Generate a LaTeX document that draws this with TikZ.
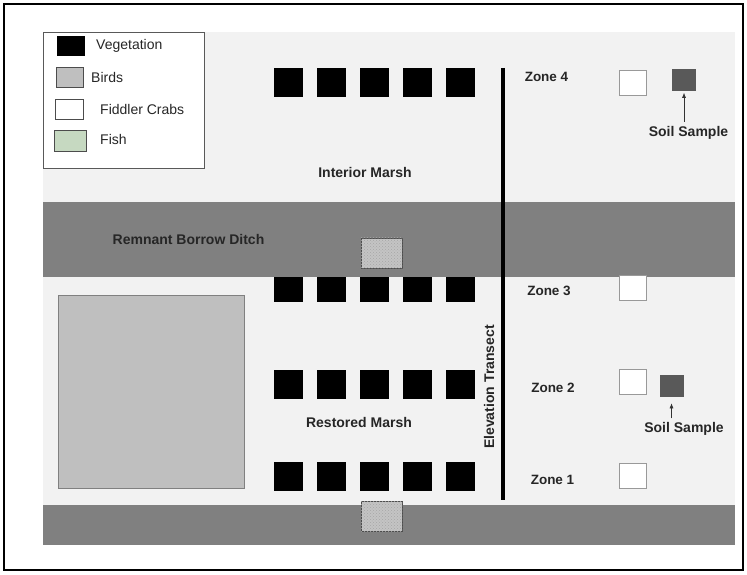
\documentclass[tikz,border=0pt]{standalone}
\usepackage{fontspec}
\setmainfont{Liberation Sans}
\usetikzlibrary{patterns,arrows.meta,calc}
\definecolor{panel}{HTML}{F2F2F2}
\definecolor{ditch}{HTML}{808080}
\definecolor{birdc}{HTML}{BFBFBF}
\definecolor{soilc}{HTML}{595959}
\definecolor{fishc}{HTML}{C6D9C1}
\definecolor{fishgray}{HTML}{C4C4C4}
\begin{document}
\begin{tikzpicture}[x=1pt,y=-1pt,
  veg/.style={fill=black,draw=black,inner sep=0pt,minimum width=28pt,minimum height=28pt},
  crab/.style={fill=white,draw=gray!80,line width=0.8pt,inner sep=0pt,minimum width=27pt,minimum height=25pt},
  soil/.style={fill=soilc,draw=gray!70!black,line width=0.6pt,inner sep=0pt,minimum width=23pt,minimum height=21pt},
  fish/.style={fill=fishgray,draw=gray!60!black,line width=0.6pt,inner sep=0pt,minimum width=41pt,minimum height=30pt},
  lbl/.style={font=\fontsize{14}{16}\selectfont\bfseries,text=black!85,inner sep=0pt},
  zlbl/.style={font=\fontsize{13.5}{16}\selectfont\bfseries,text=black!85,inner sep=0pt},
  legtxt/.style={font=\fontsize{14}{16}\selectfont,text=black!85,inner sep=0pt,anchor=west},
  swatch/.style={draw=gray!60!black,line width=0.6pt,inner sep=0pt,minimum width=27pt,minimum height=19pt},
  arr/.style={-{Latex[length=5pt,width=4pt]},line width=0.6pt,black!80}]
\useasboundingbox (0,0) rectangle (747,575);
% outer frame
\draw[line width=1.2pt] (4,4) rectangle (743,570);
% panels
\fill[panel] (43,32) rectangle (735,202);
\fill[ditch] (43,202) rectangle (735,277);
\fill[panel] (43,277) rectangle (735,505);
\fill[ditch] (43,505) rectangle (735,545);
% birds
\node[fill=birdc,draw=gray,line width=0.6pt,inner sep=0pt,minimum width=186pt,minimum height=193pt] (birds) at (151,391.5) {};
% fish
\node[fish] (fish1) at (381.5,253) {};
\node[fish] (fish2) at (381.5,516.5) {};
\fill[pattern=crosshatch dots,pattern color=gray!70] (fish1.south west) rectangle (fish1.north east);
\fill[pattern=crosshatch dots,pattern color=gray!70] (fish2.south west) rectangle (fish2.north east);
% vegetation rows
\foreach \y in {82,384,476}{
  \foreach \x in {288,331,374,417,460}{
    \node[veg] (veg-\x-\y) at (\x,\y) {};
  }
}
\foreach \x in {288,331,374,417,460}{
  \node[veg,minimum height=24pt] (veg-\x-b) at (\x,289) {};
}
% transect
\coordinate (tA) at (503,68);
\coordinate (tB) at (503,500);
\draw[line width=3.5pt] (tA) -- (tB);
\node[lbl,rotate=90] (transect) at (489,387) {Elevation Transect};
% labels
\node[lbl] (interior) at (365,172.5) {Interior Marsh};
\node[lbl] (ditchlbl) at (188.5,239.5) {Remnant Borrow Ditch};
\node[lbl] (restored) at (359,422.5) {Restored Marsh};
\node[zlbl] (z4) at (546.5,77) {Zone 4};
\node[zlbl] (z3) at (549,291) {Zone 3};
\node[zlbl] (z2) at (553,387.5) {Zone 2};
\node[zlbl] (z1) at (552.5,480) {Zone 1};
% crabs
\node[crab] (c4) at (633,83) {};
\node[crab] (c3) at (633,288) {};
\node[crab] (c2) at (633,381.5) {};
\node[crab] (c1) at (633,476) {};
% soil samples
\node[soil] (s4) at (684,80) {};
\node[soil] (s2) at (671.5,385.5) {};
\node[lbl] (s4l) at (688.5,132.5) {Soil Sample};
\node[lbl] (s2l) at (684,429) {Soil Sample};
\coordinate (a4) at ($(s4l.north -| s4)+(0,-4)$);
\coordinate (a2) at ($(s2l.north -| s2)+(0,-4)$);
\coordinate (h4) at ($(s4.south)+(0,2)$);
\coordinate (h2) at ($(s2.south)+(0,7)$);
\draw[arr] (a4) -- (h4);
\draw[arr] (a2) -- (h2);
% legend
\node[draw=gray!70!black,fill=white,line width=0.8pt,inner sep=0pt,minimum width=161pt,minimum height=136pt,anchor=north west] (legend) at (43,32) {};
\node[swatch,fill=black,draw=black] (lv) at (70.5,45.5) {};
\node[swatch,fill=birdc,minimum height=20pt] (lb) at (70,77) {};
\node[swatch,fill=white,minimum width=28pt,minimum height=20pt] (lc) at (69,109) {};
\node[swatch,fill=fishc,minimum width=32pt,minimum height=21pt] (lf) at (70.5,140.5) {};
\node[legtxt] (tv) at (96,46) {Vegetation};
\node[legtxt] (tb) at (91,77) {Birds};
\node[legtxt] (tc) at (100,109) {Fiddler Crabs};
\node[legtxt] (tf) at (100,139.5) {Fish};
\end{tikzpicture}
\end{document}
